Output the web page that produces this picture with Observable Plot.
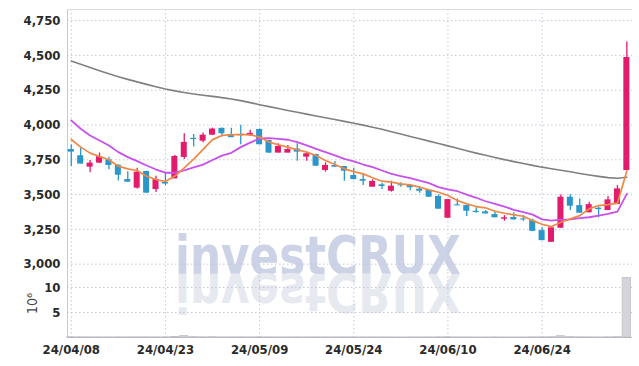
<!DOCTYPE html>
<html><head><meta charset="utf-8">
<script src="https://cdn.jsdelivr.net/npm/d3@7"></script>
<script src="https://cdn.jsdelivr.net/npm/@observablehq/plot@0.6"></script>
<style>
body{margin:0;background:#fff;}
#wrap{position:relative;width:639px;height:366px;overflow:hidden;}
#wm{position:absolute;left:0;top:0;}
#chart{position:absolute;left:0;top:0;}
#chart svg{display:block;}
</style></head><body>
<div id="wrap">
<svg id="wm" width="639" height="366">
  <text x="175" y="274" font-family="DejaVu Sans" font-weight="bold" font-size="54" fill="#cdd3e6" textLength="286" lengthAdjust="spacingAndGlyphs">investCRUX</text>
  <text x="175" y="274" font-family="DejaVu Sans" font-weight="bold" font-size="54" fill="#e7e9f1" textLength="286" lengthAdjust="spacingAndGlyphs" transform="translate(0,548) scale(1,-1)">investCRUX</text>
</svg>
<div id="chart"></div>
</div>
<script>
const dates = ["24/04/08","24/04/09","24/04/11","24/04/12","24/04/15","24/04/16","24/04/17","24/04/18","24/04/19","24/04/22",
"24/04/23","24/04/24","24/04/25","24/04/26","24/04/29","24/04/30","24/05/02","24/05/03","24/05/07","24/05/08",
"24/05/09","24/05/10","24/05/13","24/05/14","24/05/16","24/05/17","24/05/20","24/05/21","24/05/22","24/05/23",
"24/05/24","24/05/27","24/05/28","24/05/29","24/05/30","24/05/31","24/06/03","24/06/04","24/06/05","24/06/07",
"24/06/10","24/06/11","24/06/12","24/06/13","24/06/14","24/06/17","24/06/18","24/06/19","24/06/20","24/06/21",
"24/06/24","24/06/25","24/06/26","24/06/27","24/06/28","24/07/01","24/07/02","24/07/03","24/07/04","24/07/05"];
const open  = [3824,3779,3697,3726,3750,3711,3608,3546,3666,3536, 3587,3613,3767,3904,3884,3927,3976,3932,3930,3923,
               3968,3889,3798,3798,3827,3769,3788,3673,3709,3702, 3637,3608,3553,3570,3524,3570,3565,3539,3529,3486,
               3330,3426,3421,3380,3376,3356,3323,3335,3325,3313, 3241,3157,3258,3481,3421,3369,3402,3385,3428,3673];
const high  = [3858,3832,3745,3799,3769,3715,3664,3690,3668,3632, 3655,3781,3937,3932,3942,3978,3978,3976,3999,3963,
               3972,3889,3865,3853,3865,3805,3790,3729,3738,3702, 3690,3649,3606,3582,3596,3585,3567,3558,3529,3498,
               3464,3469,3421,3405,3385,3380,3349,3369,3349,3325, 3261,3261,3498,3498,3469,3445,3409,3486,3565,4597];
const low   = [3702,3719,3657,3722,3678,3598,3589,3540,3510,3515, 3565,3613,3752,3841,3873,3925,3913,3909,3858,3918,
               3858,3795,3798,3798,3740,3740,3702,3661,3695,3596, 3605,3565,3553,3536,3517,3553,3527,3510,3480,3395,
               3330,3419,3342,3366,3361,3333,3308,3318,3308,3232, 3169,3157,3258,3385,3366,3369,3333,3385,3428,3673];
const close = [3805,3719,3726,3772,3709,3639,3589,3661,3510,3608, 3576,3774,3875,3896,3927,3971,3937,3909,3923,3940,
               3858,3798,3846,3824,3805,3793,3704,3709,3697,3668, 3608,3596,3594,3558,3560,3563,3549,3524,3481,3395,
               3464,3419,3380,3371,3361,3333,3333,3318,3318,3236, 3169,3261,3481,3416,3366,3428,3392,3462,3541,4485];
const volume = [0.06,0.05,0.04,0.04,0.03,0.04,0.04,0.05,0.05,0.04, 0.04,0.1,0.28,0.08,0.05,0.06,0.04,0.04,0.05,0.03,
                0.05,0.04,0.03,0.03,0.04,0.03,0.04,0.03,0.03,0.04, 0.03,0.03,0.03,0.03,0.03,0.02,0.03,0.03,0.03,0.05,
                0.06,0.03,0.03,0.02,0.02,0.03,0.02,0.02,0.02,0.04, 0.05,0.06,0.26,0.08,0.05,0.04,0.03,0.05,0.08,11.9];
const ma5   = [3896,3841,3798,3774,3750,3704,3685,3673,3632,3608, 3594,3633,3692,3755,3825,3895,3925,3930,3932,3930,
               3913,3877,3858,3841,3822,3805,3781,3745,3716,3685, 3665,3649,3621,3596,3589,3577,3570,3553,3534,3517,
               3493,3457,3433,3414,3405,3380,3366,3354,3344,3313, 3287,3270,3301,3325,3349,3397,3421,3428,3438,3670];
const ma20  = [4033,3973,3925,3889,3853,3805,3769,3740,3709,3680, 3657,3657,3674,3695,3715,3748,3780,3800,3841,3873,
               3903,3906,3901,3894,3877,3853,3829,3805,3781,3757, 3739,3716,3697,3673,3649,3632,3618,3601,3582,3553,
               3538,3524,3500,3477,3452,3433,3414,3390,3373,3356, 3322,3313,3320,3322,3330,3337,3349,3361,3378,3505];
const ma120 = [4460,4437,4413,4390,4368,4347,4328,4310,4292,4275, 4259,4245,4233,4223,4214,4206,4197,4187,4175,4161,
               4146,4132,4118,4104,4091,4078,4065,4052,4039,4026, 4013,3999,3984,3969,3952,3935,3918,3901,3884,3867,
               3850,3833,3815,3798,3782,3766,3751,3737,3723,3710, 3697,3686,3675,3664,3652,3641,3631,3622,3617,3625];
const priceTicks = [3000,3250,3500,3750,4000,4250,4500,4750];
const volTicks = [5,10];
const dateTicks = [0,10,20,30,40,50];

const RED = "#e31b6d", BLUE = "#2b96c9";
const GRID = "#c3c8da", BORDER = "#c8c8d0";
const FONT = "'DejaVu Sans Condensed',sans-serif";
const idx = d3.range(dates.length);
const col = i => close[i] >= open[i] ? RED : BLUE;
const XD = [-0.4, 59.6];

const pricePlot = Plot.plot({
  width: 639, height: 272,
  marginLeft: 67, marginRight: 7, marginTop: 9, marginBottom: 0,
  style: {background: "transparent", fontFamily: FONT, fontSize: "13px", fontWeight: "bold", color: "#2a2a2a"},
  x: {domain: XD, axis: null},
  y: {domain: [2940, 4830], ticks: priceTicks, tickFormat: d3.format(","), tickSize: 0, tickPadding: 7, label: null},
  marks: [
    Plot.ruleY(priceTicks, {stroke: GRID, strokeDasharray: "1.5,2.5"}),
    Plot.ruleX(dateTicks, {stroke: GRID, strokeDasharray: "1.5,2.5"}),
    Plot.ruleX([XD[0]], {stroke: BORDER}),
    Plot.ruleY([4830], {stroke: "#dcdce2"}),
    Plot.ruleY([2940], {stroke: "#b9b9c0"}),
    Plot.ruleX(idx, {x: i => i, y1: i => low[i], y2: i => high[i], stroke: col, strokeWidth: 1.3}),
    Plot.rect(idx, {x1: i => i - 0.32, x2: i => i + 0.32, y1: i => open[i], y2: i => close[i], fill: col}),
    Plot.line(idx, {x: i => i, y: i => ma120[i], stroke: "#808080", strokeWidth: 1.6}),
    Plot.line(idx, {x: i => i, y: i => ma20[i], stroke: "#c850ec", strokeWidth: 1.8}),
    Plot.line(idx, {x: i => i, y: i => ma5[i], stroke: "#f08845", strokeWidth: 1.7})
  ]
});

const volumePlot = Plot.plot({
  width: 639, height: 94,
  marginLeft: 67, marginRight: 7, marginTop: 0, marginBottom: 29,
  style: {background: "transparent", fontFamily: FONT, fontSize: "13px", fontWeight: "bold", color: "#2a2a2a"},
  x: {domain: XD, ticks: dateTicks, tickFormat: i => dates[i], tickSize: 0, tickPadding: 7, label: null},
  y: {domain: [0, 13], ticks: volTicks, tickSize: 0, tickPadding: 7, label: null},
  marks: [
    Plot.ruleY(volTicks, {stroke: GRID, strokeDasharray: "1.5,2.5"}),
    Plot.ruleX(dateTicks, {stroke: GRID, strokeDasharray: "1.5,2.5"}),
    Plot.ruleX([XD[0]], {stroke: BORDER}),
    Plot.rect(idx, {x1: i => i - 0.44, x2: i => i + 0.44, y1: 0, y2: i => volume[i], fill: "#d4d4dc", stroke: "#c0c0c8", strokeWidth: 0.8}),
    Plot.ruleY([0], {stroke: "#b9b9c0"}),
    Plot.text(["10⁶"], {frameAnchor: "left", dx: -35, dy: 9, rotate: -90, fontSize: 14, fontWeight: "normal", fill: "#444"})
  ]
});

document.getElementById("chart").append(pricePlot, volumePlot);
</script>
</body></html>
